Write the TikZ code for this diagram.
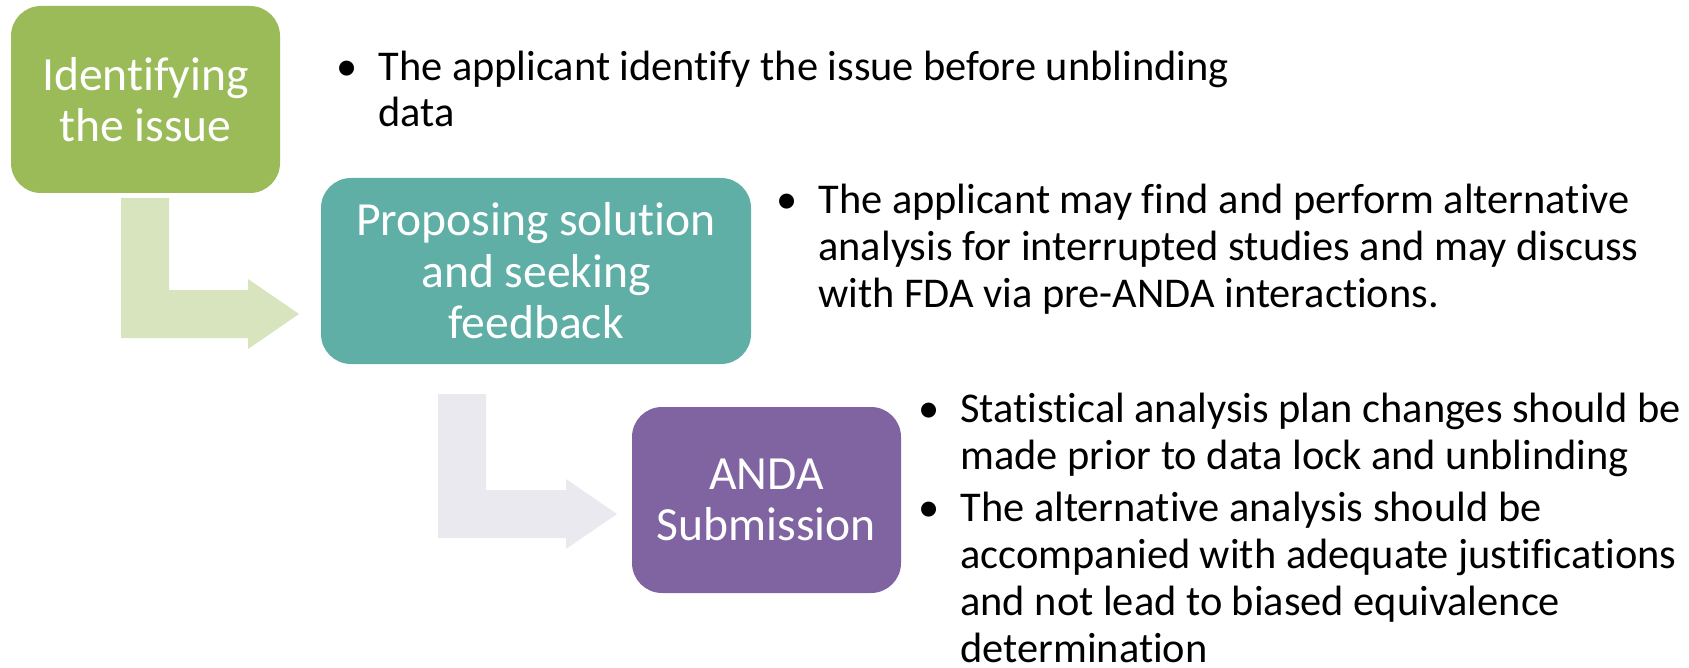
\documentclass[tikz,border=0pt]{standalone}
\usepackage{fontspec}
\setmainfont{Carlito}[Ligatures=NoCommon]
\definecolor{stepgreen}{HTML}{9BBB59}
\definecolor{stepteal}{HTML}{5FAFA6}
\definecolor{steppurple}{HTML}{8064A2}
\definecolor{bendgreen}{HTML}{D7E4BD}
\definecolor{bendlilac}{HTML}{EBE9F0}
\tikzset{
  stepbox/.style={draw=none, rounded corners=15pt, text=white, align=center,
    inner sep=0pt, font=\fontsize{23.8}{25.8}\selectfont},
  % anchored at the baseline of the last line of the note
  bulletitem/.style={anchor=base west, inner sep=0pt, align=left,
    font=\fontsize{21.2}{23.4}\selectfont},
}
\newcommand{\itembullet}{\llap{•\hskip 10.5pt}}
\begin{document}
\begin{tikzpicture}[x=0.5pt, y=-0.5pt]
  \useasboundingbox (0,0) rectangle (1689,668);

  % bent arrows between the steps
  \fill[bendgreen] (121,198) -- (169,198) -- (169,290) -- (248,290) -- (248,279)
    -- (299,314) -- (248,349) -- (248,338) -- (121,338) -- cycle;
  \fill[bendlilac] (438,394) -- (486,394) -- (486,490) -- (566,490) -- (566,479)
    -- (617,514) -- (566,549) -- (566,538) -- (438,538) -- cycle;

  % step boxes
  \node[stepbox, fill=stepgreen, minimum width=134.5pt, minimum height=93.5pt]
    (b1) at (145.5,99.5) {Identifying\\the issue};
  \node[stepbox, fill=stepteal, minimum width=215pt, minimum height=93pt]
    (b2) at (536,271) {Proposing solution\\and seeking\\feedback};
  \node[stepbox, fill=steppurple, minimum width=134.5pt, minimum height=93pt]
    (b3) at (766.5,500) {ANDA\\Submission};

  % notes beside each step
  \node[bulletitem] (t1) at (378,127)
    {\itembullet The applicant identify the issue before unblinding\\data};
  \node[bulletitem] (t2) at (818,307)
    {\itembullet The applicant may find and perform alternative\\analysis for interrupted studies and may discuss\\with FDA via pre-ANDA interactions.};
  \node[bulletitem] (t3a) at (960,469)
    {\itembullet Statistical analysis plan changes should be\\made prior to data lock and unblinding};
  \node[bulletitem] (t3b) at (960,662)
    {\itembullet The alternative analysis should be\\accompanied with adequate justifications\\and not lead to biased equivalence\\determination};
\end{tikzpicture}
\end{document}
